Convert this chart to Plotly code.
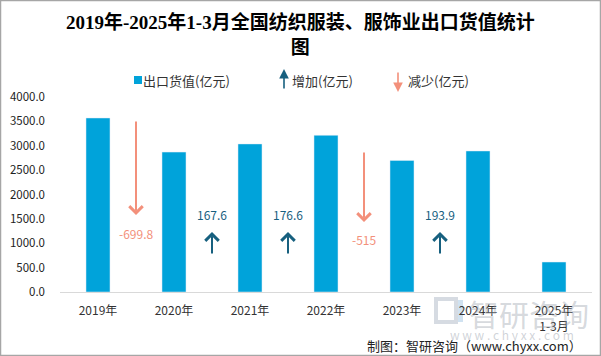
import plotly.graph_objects as go

# ---- data ----
categories = ["2019年", "2020年", "2021年", "2022年", "2023年", "2024年", "2025年<br>1-3月"]
export_values = [3569.8, 2870.0, 3037.6, 3214.2, 2699.2, 2893.1, 615.0]
changes = [-699.8, 167.6, 176.6, -515.0, 193.9]
# helper series for the change arrows (arrow tail value, arrow tip value, label value)
arrow_tail = [3528, 760, 760, 2890, 760]
arrow_tip = [1580, 1230, 1230, 1436, 1230]
label_pos = [1190, 1580, 1580, 1087, 1580]
y_ticks = [0, 500, 1000, 1500, 2000, 2500, 3000, 3500, 4000]

BAR = "#00A3DA"
UP = "#17607F"
DOWN = "#F3907B"
FONT = "Noto Sans CJK SC, Liberation Sans, sans-serif"

W, H = 601, 356
L, R, T, B = 60, 9, 97, 64
PW, PH = W - L - R, H - T - B


def px(x):
    return (x - L) / PW


def py(y):
    return (H - B - y) / PH


xs = list(range(len(categories)))
fig = go.Figure()
fig.add_trace(go.Bar(x=xs, y=export_values, marker_color=BAR, width=0.316,
                     showlegend=False, hoverinfo="y"))

ann = []
# watermark (drawn first, behind other texts)
ann.append(dict(x=px(529), y=py(313), xref="paper", yref="paper", showarrow=False,
                text="智研咨询", xanchor="center", yanchor="middle",
                font=dict(family=FONT, size=30, color="rgba(150,158,168,0.4)")))
ann.append(dict(x=px(512), y=py(334), xref="paper", yref="paper", showarrow=False,
                text="w w w . c h y x x . c o m", xanchor="center", yanchor="middle",
                font=dict(family=FONT, size=12, color="rgba(150,158,168,0.45)")))

for i, c in enumerate(changes):
    col = UP if c > 0 else DOWN
    xm = i + 0.5
    ann.append(dict(x=xm, y=arrow_tip[i], ax=xm, ay=arrow_tail[i], xref="x", yref="y",
                    axref="x", ayref="y", showarrow=True, arrowhead=4, arrowsize=1.3,
                    arrowwidth=2, arrowcolor=col, text=""))
    ann.append(dict(x=xm, y=label_pos[i], xref="x", yref="y", showarrow=False,
                    text=f"{c:g}", font=dict(family=FONT, size=12, color=col)))

# title
ann.append(dict(x=px(300), y=py(34), xref="paper", yref="paper", showarrow=False,
                text="<b>2019年-2025年1-3月全国纺织服装、服饰业出口货值统计<br>图</b>",
                font=dict(family="Liberation Serif, Noto Sans CJK SC, serif", size=19, color="#000"),
                xanchor="center", yanchor="middle"))
# legend
ann.append(dict(x=px(141), y=py(80), xref="paper", yref="paper", showarrow=False,
                text="出口货值(亿元)", xanchor="left", yanchor="middle",
                font=dict(family=FONT, size=13, color="#333")))
ann.append(dict(x=px(284), y=py(69), ax=0, ay=21, xref="paper", yref="paper",
                showarrow=True, arrowhead=2, arrowsize=1.2, arrowwidth=1.6, arrowcolor=UP, text=""))
ann.append(dict(x=px(290), y=py(80), xref="paper", yref="paper", showarrow=False,
                text="增加(亿元)", xanchor="left", yanchor="middle",
                font=dict(family=FONT, size=13, color="#333")))
ann.append(dict(x=px(398), y=py(92), ax=0, ay=-21, xref="paper", yref="paper",
                showarrow=True, arrowhead=2, arrowsize=1.2, arrowwidth=1.6, arrowcolor=DOWN, text=""))
ann.append(dict(x=px(406), y=py(80), xref="paper", yref="paper", showarrow=False,
                text="减少(亿元)", xanchor="left", yanchor="middle",
                font=dict(family=FONT, size=13, color="#333")))
# source
ann.append(dict(x=px(584), y=py(345), xref="paper", yref="paper", showarrow=False,
                text="制图：智研咨询（www.chyxx.com）", xanchor="right", yanchor="middle",
                font=dict(family=FONT, size=13, color="#222")))

shapes = [
    dict(type="rect", xref="paper", yref="paper", x0=px(134), x1=px(142), y0=py(76), y1=py(84),
         fillcolor=BAR, line=dict(width=0)),
    # watermark logo
    dict(type="rect", xref="paper", yref="paper", x0=px(436), x1=px(456), y0=py(299), y1=py(322),
         fillcolor="rgba(0,0,0,0)", line=dict(color="rgba(165,175,190,0.45)", width=4), layer="below"),
    dict(type="rect", xref="paper", yref="paper", x0=px(458), x1=px(463), y0=py(300), y1=py(322),
         fillcolor="rgba(150,190,225,0.45)", line=dict(width=0), layer="below"),
    dict(type="rect", xref="paper", yref="paper", x0=px(0.5), x1=px(600.5), y0=py(355.5), y1=py(0.5),
         fillcolor="rgba(0,0,0,0)", line=dict(color="#a6a6a6", width=1.5)),
]

fig.update_layout(
    width=W, height=H, margin=dict(l=L, r=R, t=T, b=B),
    paper_bgcolor="white", plot_bgcolor="white",
    annotations=ann, shapes=shapes, showlegend=False,
    xaxis=dict(range=[-0.5, 6.5], tickvals=xs, ticktext=categories, showgrid=False,
               zeroline=False, showline=True, linecolor="#d9d9d9", linewidth=1,
               ticks="", ticklabelstandoff=8,
               tickfont=dict(family=FONT, size=12, color="#333"), fixedrange=True),
    yaxis=dict(range=[0, 4000], tickvals=y_ticks, tickformat=".1f", showgrid=False,
               zeroline=False, showline=False, ticks="", ticklabelstandoff=14,
               tickfont=dict(family=FONT, size=11.5, color="#222"), fixedrange=True),
    bargap=0.68,
)
fig.write_html("out.html", config={"displayModeBar": False},
               post_script="document.body.style.margin='0';")
